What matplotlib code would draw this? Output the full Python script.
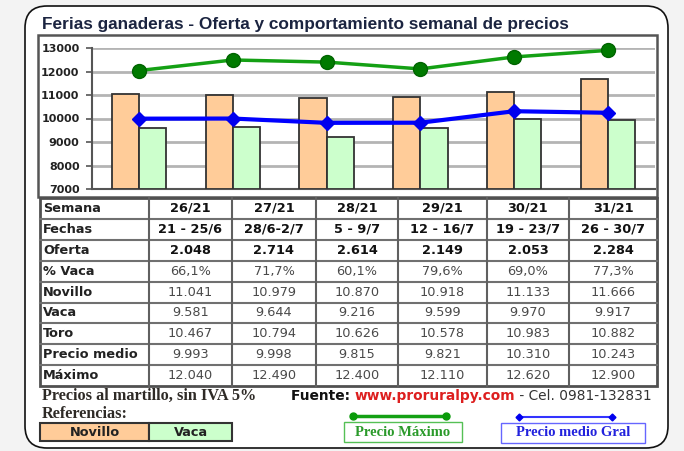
import matplotlib
matplotlib.use("Agg")
import matplotlib.pyplot as plt
from matplotlib.patches import FancyBboxPatch, Rectangle
import numpy as np

# data
semanas = ["26/21", "27/21", "28/21", "29/21", "30/21", "31/21"]
fechas = ["21 - 25/6", "28/6-2/7", "5 - 9/7", "12 - 16/7", "19 - 23/7", "26 - 30/7"]
oferta = [2048, 2714, 2614, 2149, 2053, 2284]
pct_vaca = [66.1, 71.7, 60.1, 79.6, 69.0, 77.3]
novillo = [11041, 10979, 10870, 10918, 11133, 11666]
vaca = [9581, 9644, 9216, 9599, 9970, 9917]
toro = [10467, 10794, 10626, 10578, 10983, 10882]
precio_medio = [9993, 9998, 9815, 9821, 10310, 10243]
maximo = [12040, 12490, 12400, 12110, 12620, 12900]
yticks = [7000, 8000, 9000, 10000, 11000, 12000, 13000]

SANS = "Liberation Sans"
WIDE = "DejaVu Sans"
SERIF = "Liberation Serif"

W, H = 684, 451
fig = plt.figure(figsize=(W / 100, H / 100), dpi=100, facecolor="#f3f3f3")

# background axes in pixel coordinates
bg = fig.add_axes([0, 0, 1, 1])
bg.set_xlim(0, W)
bg.set_ylim(H, 0)
bg.axis("off")

frame = FancyBboxPatch((25, 6), 643, 442, boxstyle="round,pad=0,rounding_size=22",
                       facecolor="white", edgecolor="#111111", linewidth=1.2)
bg.add_patch(frame)

bg.text(42, 24, "Ferias ganaderas - Oferta y comportamiento semanal de precios",
        fontsize=12.45, fontweight="bold", family=SANS, color="#1b2440", va="center")

# chart box
bg.add_patch(Rectangle((38, 35), 619, 162, facecolor="white", edgecolor="#555555", linewidth=1.8))

def fmt(v):
    return f"{v:,}".replace(",", ".")

# ---- chart ----
x0, x1, ytop, ybot = 92, 655, 48, 189
ax = fig.add_axes([x0 / W, 1 - ybot / H, (x1 - x0) / W, (ybot - ytop) / H])
ax.set_facecolor("white")
x = np.arange(len(semanas))
bw = 0.29
ax.bar(x - bw / 2, np.array(novillo) - 7000, bw, bottom=7000, color="#ffcc99",
       edgecolor="#333333", linewidth=1.3, zorder=3)
ax.bar(x + bw / 2, np.array(vaca) - 7000, bw, bottom=7000, color="#ccffcc",
       edgecolor="#333333", linewidth=1.3, zorder=3)
ax.plot(x, maximo, color="#14a014", linewidth=2.5, marker="o", markersize=10,
        markerfacecolor="#007a00", markeredgecolor="#006400", zorder=4, clip_on=False)
ax.plot(x, precio_medio, color="#0000ff", linewidth=3, marker="D", markersize=7,
        markerfacecolor="#0000ee", markeredgecolor="#0000ee", zorder=5)
ax.set_xlim(-0.5, len(semanas) - 0.5)
ax.set_ylim(7000, 13000)
ax.set_yticks(yticks)
ax.set_yticklabels([str(t) for t in yticks], fontsize=8, fontweight="bold",
                   family=WIDE, color="#222222")
ax.set_xticks([])
ax.tick_params(axis="y", length=4, width=1.2, color="#555555", pad=5)
ax.grid(axis="y", color="#b4b4b4", linewidth=2, zorder=0)
ax.set_axisbelow(True)
for s in ["top", "right"]:
    ax.spines[s].set_visible(False)
ax.spines["left"].set_color("#555555")
ax.spines["left"].set_linewidth(1.5)
ax.spines["bottom"].set_color("#555555")
ax.spines["bottom"].set_linewidth(1.5)

# ---- table ----
cols = [40, 149, 232, 316, 398, 487, 569, 657]
row_top, row_h = 198, 20.9
labels = ["Semana", "Fechas", "Oferta", "% Vaca", "Novillo", "Vaca", "Toro",
          "Precio medio", "Máximo"]
rows = [semanas, fechas, [fmt(v) for v in oferta],
        [f"{v:.1f}%".replace(".", ",") for v in pct_vaca],
        [fmt(v) for v in novillo], [fmt(v) for v in vaca], [fmt(v) for v in toro],
        [fmt(v) for v in precio_medio], [fmt(v) for v in maximo]]
nrows = len(labels)
row_bot = row_top + nrows * row_h
for i in range(1, nrows):
    yy = row_top + i * row_h
    bg.plot([cols[0], cols[-1]], [yy, yy], color="#707070", linewidth=1.5)
for cx in cols[1:-1]:
    bg.plot([cx, cx], [row_top, row_bot], color="#606060", linewidth=1.5)
bg.add_patch(Rectangle((cols[0], row_top), cols[-1] - cols[0], row_bot - row_top,
                       facecolor="none", edgecolor="#505050", linewidth=2))
for i, (lab, vals) in enumerate(zip(labels, rows)):
    yc = row_top + (i + 0.5) * row_h
    bg.text(cols[0] + 3, yc, lab, fontsize=9.3, fontweight="bold", family=WIDE,
            color="#222222", va="center", ha="left")
    bold = i < 3
    for j, v in enumerate(vals):
        xc = (cols[j + 1] + cols[j + 2]) / 2
        bg.text(xc, yc, v, fontsize=9.3, fontweight="bold" if bold else "normal",
                family=WIDE, color="#111111" if bold else "#4a4a4a",
                va="center", ha="center")

# ---- notes ----
bg.text(42, 396, "Precios al martillo, sin IVA 5%", fontsize=11.7, fontweight="bold",
        family=SERIF, color="#2e2a26", va="center")
bg.text(42, 414, "Referencias:", fontsize=11.7, fontweight="bold",
        family=SERIF, color="#2e2a26", va="center")

fig.canvas.draw()
renderer = fig.canvas.get_renderer()
inv = bg.transData.inverted()
xpos = 291
for txt, col, wt in [("Fuente: ", "#111111", "bold"), ("www.proruralpy.com", "#dd1f1f", "bold"),
                     (" - Cel. 0981-132831", "#333333", "normal")]:
    t = bg.text(xpos, 396, txt, fontsize=9.9, fontweight=wt, family=WIDE, color=col,
                va="center", ha="left")
    bb = t.get_window_extent(renderer)
    xpos = inv.transform((bb.x1, bb.y0))[0]

# legend boxes
bg.add_patch(Rectangle((40, 423), 109, 18, facecolor="#ffcc99", edgecolor="#333333", linewidth=1.5))
bg.add_patch(Rectangle((149, 423), 83, 18, facecolor="#ccffcc", edgecolor="#333333", linewidth=1.5))
bg.text(94.5, 432, "Novillo", fontsize=9.3, fontweight="bold", family=WIDE, color="#222222",
        ha="center", va="center")
bg.text(190.5, 432, "Vaca", fontsize=9.3, fontweight="bold", family=WIDE, color="#222222",
        ha="center", va="center")

bg.plot([353, 446], [416, 416], color="#14a014", linewidth=2.5, marker="o", markersize=5,
        markerfacecolor="#0a9a0a", markeredgecolor="#0a9a0a")
bg.add_patch(Rectangle((344, 422), 118, 20, facecolor="white", edgecolor="#55c055", linewidth=1))
bg.text(403, 432, "Precio Máximo", fontsize=10.5, fontweight="bold", family=SERIF,
        color="#2a9a2a", ha="center", va="center")

bg.plot([519, 612], [417, 417], color="#3333ff", linewidth=1.5, marker="D", markersize=3.5,
        markerfacecolor="#0000ee", markeredgecolor="#0000ee")
bg.add_patch(Rectangle((501, 423), 144, 20, facecolor="white", edgecolor="#6666ff", linewidth=1))
bg.text(573, 433, "Precio medio Gral", fontsize=10.5, fontweight="bold", family=SERIF,
        color="#2222dd", ha="center", va="center")

fig.savefig("out.png", dpi=100, facecolor=fig.get_facecolor())
